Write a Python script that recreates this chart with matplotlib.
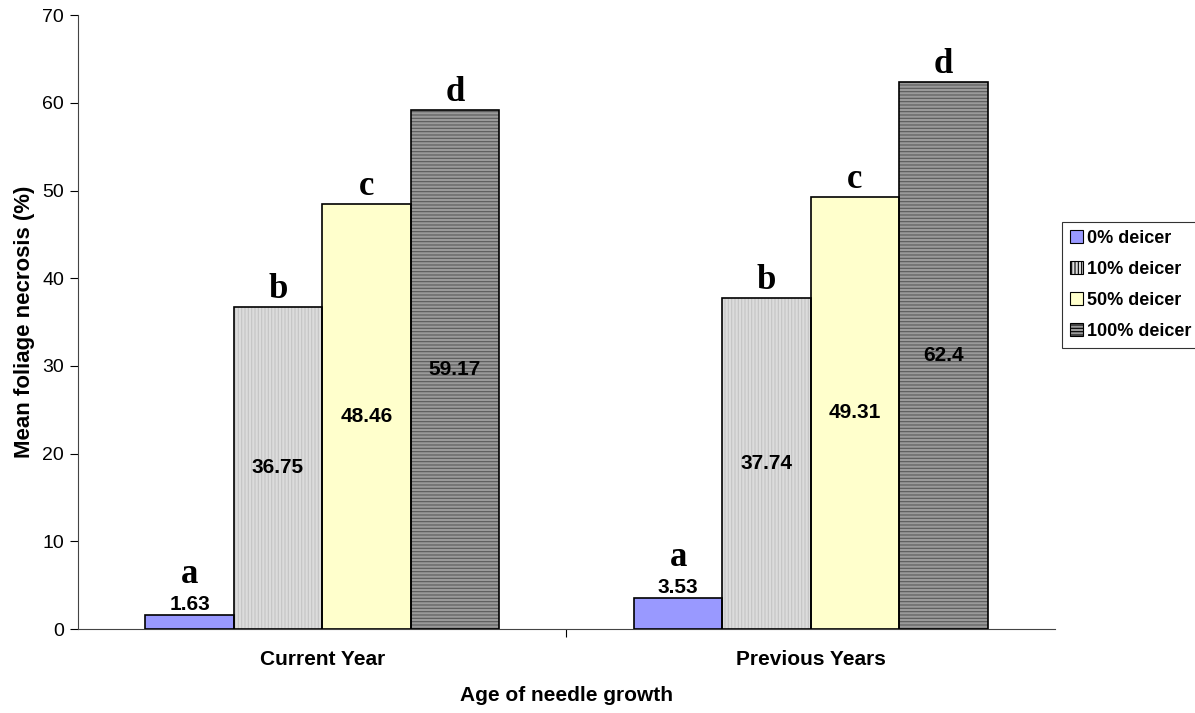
import matplotlib
matplotlib.use('Agg')
import matplotlib.pyplot as plt
import numpy as np

plt.rcParams['font.family'] = ['Liberation Sans', 'DejaVu Sans']
plt.rcParams['hatch.linewidth'] = 0.8

categories = ['Current Year', 'Previous Years']
series = ['0% deicer', '10% deicer', '50% deicer', '100% deicer']
values = [[1.63, 3.53],
          [36.75, 37.74],
          [48.46, 49.31],
          [59.17, 62.4]]
value_text = [['1.63', '3.53'],
              ['36.75', '37.74'],
              ['48.46', '49.31'],
              ['59.17', '62.4']]
letters = ['a', 'b', 'c', 'd']

faces = ['#9999ff', '#dcdcdc', '#ffffcc', '#9a9a9a']
hatches = [None, '|||||', None, '-----']
hatch_cols = ['black', '#c4c4c4', 'black', '#5a5a5a']

fig = plt.figure(figsize=(11.95, 7.13), dpi=100)
ax = fig.add_axes([0.0653, 0.1178, 0.8175, 0.861])

x = np.arange(len(categories))
width = 0.181
for i, s in enumerate(series):
    pos = x + (i - 1.5) * width
    bars = ax.bar(pos, values[i], width, color=faces[i], edgecolor=hatch_cols[i],
                  hatch=hatches[i], linewidth=0, label=s, zorder=2)
    # black outline on top of hatch
    ax.bar(pos, values[i], width, color='none', edgecolor='black', linewidth=1.2, zorder=3)
    for j, b in enumerate(bars):
        v = values[i][j]
        if i == 0:
            ax.text(pos[j], v + 0.1, value_text[i][j], ha='center', va='bottom',
                    fontsize=15, fontweight='bold', zorder=4)
            ax.text(pos[j], v + 2.7, letters[i], ha='center', va='bottom',
                    fontsize=25, fontweight='bold', family='Liberation Serif', zorder=4)
        else:
            ax.text(pos[j], v / 2, value_text[i][j], ha='center', va='center',
                    fontsize=15, fontweight='bold', zorder=4)
            ax.text(pos[j], v + 0.1, letters[i], ha='center', va='bottom',
                    fontsize=25, fontweight='bold', family='Liberation Serif', zorder=4)

ax.set_xlim(-0.5, 1.5)
ax.set_ylim(0, 70)
ax.set_yticks(np.arange(0, 71, 10))
ax.set_xticks([0.5], minor=False)
ax.set_xticklabels([''])
ax.set_xticks(x, minor=True)
ax.set_xticklabels(categories, minor=True, fontsize=15, fontweight='bold')
ax.tick_params(axis='x', which='minor', length=0, pad=15)
ax.tick_params(axis='x', which='major', direction='out', length=6, width=0.8)
ax.tick_params(axis='y', direction='out', length=6, width=0.8, labelsize=14, pad=4)
for sp in ['top', 'right']:
    ax.spines[sp].set_visible(False)
ax.spines['left'].set_linewidth(0.8)
ax.spines['bottom'].set_linewidth(0.8)
ax.spines['left'].set_color('#444444')
ax.spines['bottom'].set_color('#444444')

ax.set_xlabel('Age of needle growth', fontsize=15, fontweight='bold', labelpad=12)
ax.set_ylabel('Mean foliage necrosis (%)', fontsize=16, fontweight='bold', labelpad=5)

handles, labels = ax.get_legend_handles_labels()
leg = fig.legend(handles[:4], labels[:4], loc='upper left', bbox_to_anchor=(0.889, 0.689),
                 frameon=True, fancybox=False, edgecolor='black', handlelength=0.7,
                 handleheight=0.7, handletextpad=0.2, borderpad=0.45, labelspacing=0.78,
                 borderaxespad=0, prop={'weight': 'bold', 'size': 13})
leg.get_frame().set_linewidth(0.8)
for h in leg.legend_handles:
    h.set_edgecolor('black')
    h.set_linewidth(0.8)

fig.savefig('out.png', dpi=100)
